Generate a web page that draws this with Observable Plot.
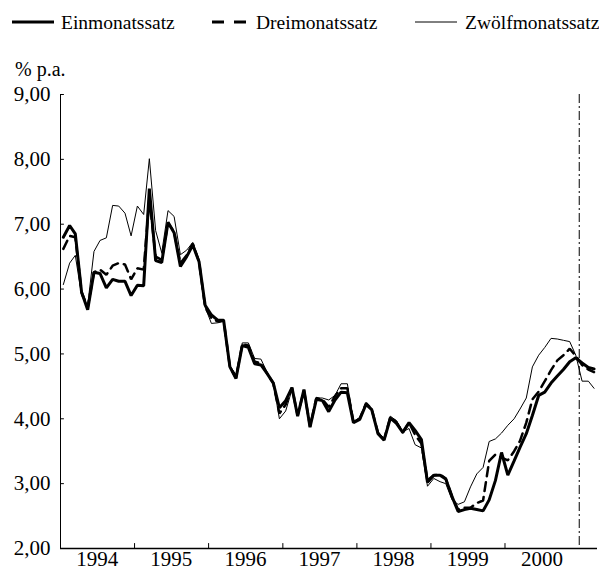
<!DOCTYPE html>
<html>
<head>
<meta charset="utf-8">
<script src="https://cdn.jsdelivr.net/npm/d3@7"></script>
<script src="https://cdn.jsdelivr.net/npm/@observablehq/plot@0.6"></script>
<style>
  html, body { margin: 0; padding: 0; background: #fff; }
  #wrap { position: relative; width: 599px; height: 573px; font-family: "Liberation Serif", "Times New Roman", serif; color: #000; }
  #legend { position: absolute; left: 0; top: 0; }
  #chart { position: absolute; left: 0; top: 50px; }
  #unit { position: absolute; left: 15px; top: 58px; font-size: 20px; line-height: 22px; z-index: 2; }
</style>
</head>
<body>
<div id="wrap">
  <svg id="legend" width="599" height="50"></svg>
  <div id="chart"></div>
  <div id="unit">% p.a.</div>
</div>
<script>
// Monthly money market rates, Jan 1994 – Mar 2001 (87 months)
const seriesNames = ["Einmonatssatz", "Dreimonatssatz", "Zwölfmonatssatz"];

const einmonat = [
  6.80, 6.98, 6.85, 5.95, 5.68, 6.26, 6.24, 6.02, 6.15, 6.12, 6.12, 5.90,
  6.06, 6.05, 7.55, 6.44, 6.41, 7.03, 6.87, 6.35, 6.50, 6.68, 6.42, 5.75,
  5.60, 5.52, 5.52, 4.80, 4.62, 5.13, 5.10, 4.85, 4.83, 4.70, 4.55, 4.17,
  4.28, 4.48, 4.04, 4.45, 3.87, 4.30, 4.28, 4.11, 4.29, 4.41, 4.40, 3.94,
  3.99, 4.22, 4.14, 3.77, 3.67, 4.01, 3.93, 3.79, 3.94, 3.82, 3.68, 3.02,
  3.13, 3.13, 3.07, 2.80, 2.57, 2.60, 2.62, 2.60, 2.58, 2.75, 3.05, 3.48,
  3.13, 3.35, 3.56, 3.77, 4.05, 4.36, 4.41, 4.55, 4.66, 4.76, 4.88, 4.94,
  4.86, 4.79, 4.77
];

const dreimonat = [
  6.62, 6.82, 6.80, 5.95, 5.72, 6.26, 6.30, 6.22, 6.36, 6.40, 6.38, 6.15,
  6.32, 6.30, 7.40, 6.50, 6.45, 7.02, 6.88, 6.40, 6.52, 6.70, 6.42, 5.72,
  5.55, 5.50, 5.52, 4.80, 4.63, 5.15, 5.13, 4.88, 4.86, 4.70, 4.55, 4.08,
  4.22, 4.48, 4.05, 4.44, 3.88, 4.32, 4.30, 4.18, 4.35, 4.47, 4.47, 3.95,
  4.00, 4.24, 4.15, 3.78, 3.68, 4.03, 3.95, 3.79, 3.94, 3.75, 3.62, 3.05,
  3.13, 3.14, 3.08, 2.80, 2.60, 2.63, 2.63, 2.70, 2.74, 3.35, 3.45, 3.40,
  3.36, 3.50, 3.66, 3.94, 4.30, 4.42, 4.58, 4.75, 4.90, 4.98, 5.08, 4.97,
  4.83, 4.76, 4.72
];

const zwoelfmonat = [
  6.07, 6.40, 6.52, 5.90, 5.75, 6.58, 6.75, 6.79, 7.29, 7.28, 7.17, 6.82,
  7.28, 7.15, 8.01, 6.90, 6.56, 7.21, 7.12, 6.53, 6.60, 6.72, 6.45, 5.72,
  5.47, 5.48, 5.50, 4.82, 4.68, 5.17, 5.17, 4.93, 4.92, 4.72, 4.55, 4.00,
  4.12, 4.45, 4.06, 4.42, 3.90, 4.32, 4.32, 4.29, 4.36, 4.54, 4.54, 3.96,
  4.02, 4.25, 4.16, 3.80, 3.70, 4.04, 3.97, 3.80, 3.85, 3.60, 3.55, 2.96,
  3.08, 3.03, 3.00, 2.75, 2.68, 2.72, 2.95, 3.15, 3.25, 3.65, 3.69, 3.78,
  3.90, 4.00, 4.15, 4.32, 4.80, 4.98, 5.10, 5.24, 5.23, 5.21, 5.19, 4.98,
  4.58, 4.58, 4.47
];

const yTicks = [2, 3, 4, 5, 6, 7, 8, 9];
const yearLabels = ["1994", "1995", "1996", "1997", "1998", "1999", "2000"];
const yearTickYears = [1995, 1996, 1997, 1998, 1999, 2000];
const breakYear = 2001;

// Build table
const months = d3.utcMonth.range(new Date(Date.UTC(1994, 0, 1)), new Date(Date.UTC(2001, 3, 1)));
const rows = [];
const valuesBySeries = [einmonat, dreimonat, zwoelfmonat];
seriesNames.forEach((s, k) => {
  months.forEach((m, i) => {
    rows.push({series: s, date: d3.utcDay.offset(m, 14), value: valuesBySeries[k][i]});
  });
});

const xStart = new Date(Date.UTC(1994, 0, 1));
const xEnd = new Date(Date.UTC(2001, 3, 1));
const labelDates = yearLabels.map(y => new Date(Date.UTC(+y, 6, 1)));
const tickDates = yearTickYears.map(y => new Date(Date.UTC(y, 0, 1)));
const breakDate = new Date(Date.UTC(breakYear, 0, 1));

const tickShape = {draw(ctx, l) { ctx.moveTo(0, 0); ctx.lineTo(0, -l); }};
const fmt = d => d.toFixed(2).replace(".", ",");
const font = "Liberation Serif, Times New Roman, serif";

const chart = Plot.plot({
  width: 599,
  height: 523,
  marginTop: 44,
  marginBottom: 25,
  marginLeft: 60,
  marginRight: 2,
  style: {fontFamily: font, fontSize: "21px", color: "#000", background: "transparent", overflow: "visible"},
  x: {type: "utc", domain: [xStart, xEnd], axis: null},
  y: {domain: [2, 9], axis: null},
  marks: [
    Plot.axisY(yTicks, {tickSize: 0, tickPadding: 10, tickFormat: fmt, fontSize: 21, label: null}),
    Plot.axisX(labelDates, {tickSize: 0, tickPadding: 3, tickFormat: d => d3.utcFormat("%Y")(d), fontSize: 21, label: null}),
    Plot.vector(yTicks, {y: d => d, frameAnchor: "left", length: 3, rotate: 90, anchor: "start", shape: tickShape, stroke: "#000", strokeWidth: 1}),
    Plot.vector(tickDates, {x: d => d, frameAnchor: "bottom", length: 5, rotate: 0, anchor: "start", shape: tickShape, stroke: "#000", strokeWidth: 1}),
    Plot.ruleX([breakDate], {stroke: "#000", strokeWidth: 1, strokeDasharray: "9,3,2,3"}),
    Plot.line(rows.filter(d => d.series === "Zwölfmonatssatz"), {x: "date", y: "value", stroke: "#000", strokeWidth: 1}),
    Plot.line(rows.filter(d => d.series === "Dreimonatssatz"), {x: "date", y: "value", stroke: "#000", strokeWidth: 2.5, strokeDasharray: "9,6", strokeLinejoin: "miter"}),
    Plot.line(rows.filter(d => d.series === "Einmonatssatz"), {x: "date", y: "value", stroke: "#000", strokeWidth: 3, strokeLinejoin: "miter"}),
    Plot.ruleX([xStart], {stroke: "#000", strokeWidth: 1}),
    Plot.ruleY([2], {stroke: "#000", strokeWidth: 1.3})
  ]
});
document.getElementById("chart").appendChild(chart);

// Legend
const leg = d3.select("#legend");
const legendItems = [
  {name: seriesNames[0], x1: 12, x2: 54, tx: 61, w: 3, dash: null},
  {name: seriesNames[1], x1: 212, x2: 246, tx: 256, w: 3, dash: "12,10"},
  {name: seriesNames[2], x1: 415, x2: 457, tx: 465, w: 1, dash: null}
];
legendItems.forEach(it => {
  leg.append("line").attr("x1", it.x1).attr("x2", it.x2).attr("y1", 22).attr("y2", 22)
    .attr("stroke", "#000").attr("stroke-width", it.w).attr("stroke-dasharray", it.dash);
  leg.append("text").attr("x", it.tx).attr("y", 29).attr("font-family", font)
    .attr("font-size", 19.5).attr("fill", "#000").text(it.name);
});
</script>
</body>
</html>
